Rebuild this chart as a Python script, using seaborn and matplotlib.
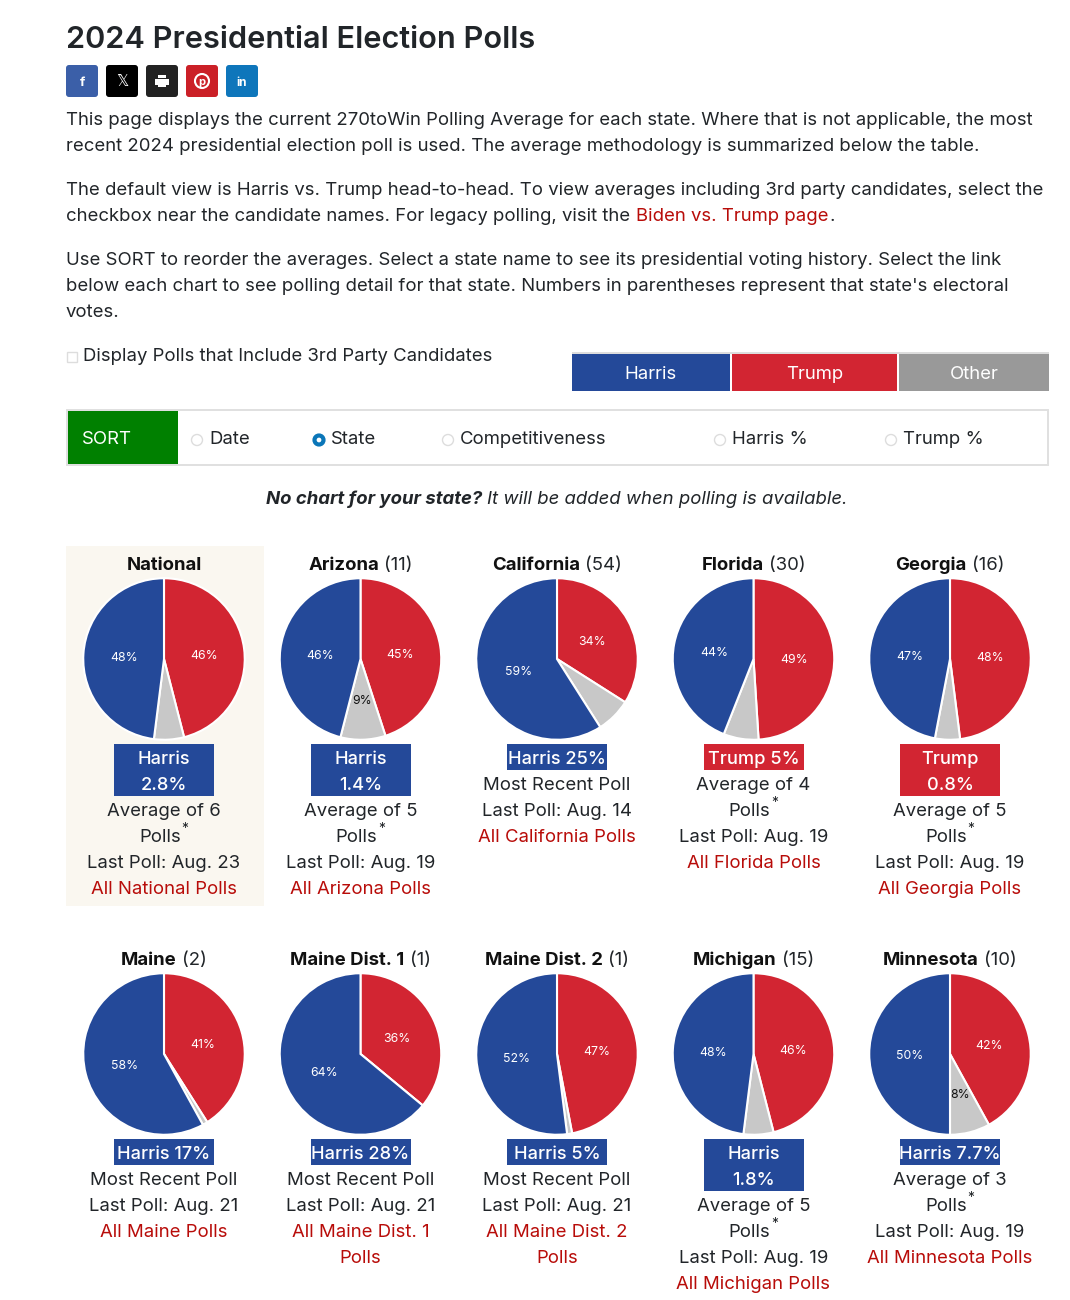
import matplotlib
matplotlib.use("Agg")
import matplotlib.pyplot as plt
from matplotlib.patches import Rectangle, FancyBboxPatch, Circle
import seaborn as sns

names = ["National", "Arizona", "California", "Florida", "Georgia",
         "Maine", "Maine Dist. 1", "Maine Dist. 2", "Michigan", "Minnesota"]
votes = ["", "(11)", "(54)", "(30)", "(16)", "(2)", "(1)", "(1)", "(15)", "(10)"]
harris = [48, 46, 59, 44, 47, 58, 64, 52, 48, 50]
trump = [46, 45, 34, 49, 48, 41, 36, 47, 46, 42]
other = [6, 9, 7, 7, 5, 1, 0, 1, 6, 8]
leaders = ["Harris", "Harris", "Harris", "Trump", "Trump",
           "Harris", "Harris", "Harris", "Harris", "Harris"]
margins = [["Harris", "2.8%"], ["Harris", "1.4%"], ["Harris 25%"], ["Trump 5%"], ["Trump", "0.8%"],
           ["Harris 17%"], ["Harris 28%"], ["Harris 5%"], ["Harris", "1.8%"], ["Harris 7.7%"]]
methods = [["Average of 6", "Polls"], ["Average of 5", "Polls"], ["Most Recent Poll"],
           ["Average of 4", "Polls"], ["Average of 5", "Polls"], ["Most Recent Poll"],
           ["Most Recent Poll"], ["Most Recent Poll"], ["Average of 5", "Polls"],
           ["Average of 3", "Polls"]]
last_polls = ["Aug. 23", "Aug. 19", "Aug. 14", "Aug. 19", "Aug. 19",
              "Aug. 21", "Aug. 21", "Aug. 21", "Aug. 19", "Aug. 19"]
links = [["All National Polls"], ["All Arizona Polls"], ["All California Polls"],
         ["All Florida Polls"], ["All Georgia Polls"], ["All Maine Polls"],
         ["All Maine Dist. 1", "Polls"], ["All Maine Dist. 2", "Polls"],
         ["All Michigan Polls"], ["All Minnesota Polls"]]
legend_names = ["Harris", "Trump", "Other"]
sort_options = ["Date", "State", "Competitiveness", "Harris %", "Trump %"]
body_lines = [
    "This page displays the current 270toWin Polling Average for each state. Where that is not applicable, the most",
    "recent 2024 presidential election poll is used. The average methodology is summarized below the table.",
    "The default view is Harris vs. Trump head-to-head. To view averages including 3rd party candidates, select the",
    "Use SORT to reorder the averages. Select a state name to see its presidential voting history. Select the link",
    "below each chart to see polling detail for that state. Numbers in parentheses represent that state's electoral",
    "votes.",
]

BLUE, RED, GREY, LGREY = "#244999", "#d22532", "#999999", "#c8c8c8"
INK, LINK = "#212529", "#b80c09"
sns.set_theme(style="white")
pie_colors = sns.color_palette([RED, LGREY, BLUE])
plt.rcParams["font.family"] = ["Inter", "DejaVu Sans"]
W, H = 1070, 1300
BODY = 13.35

fig = plt.figure(figsize=(W / 100, H / 100), dpi=100, facecolor="white")
bg = fig.add_axes([0, 0, 1, 1], zorder=0)
bg.set_xlim(0, W)
bg.set_ylim(H, 0)
bg.axis("off")
renderer = fig.canvas.get_renderer()


def box(x0, y0, x1, y1, color, **kw):
    bg.add_patch(Rectangle((x0, y0), x1 - x0, y1 - y0, facecolor=color, edgecolor="none", **kw))


def txt(x, y, s, size=BODY, color=INK, ha="left", **kw):
    return bg.text(x, y + 7, s, fontsize=size, color=color, ha=ha, va="baseline", **kw)


def runs(x, y, parts, gaps=(5,), ha="left", size=BODY):
    items = [txt(0, y, s, size=size, **kw) for s, kw in parts]
    widths = [t.get_window_extent(renderer).width for t in items]
    gaps = list(gaps) + [0]
    total = sum(widths) + sum(gaps[:len(items) - 1])
    cur = x - total / 2 if ha == "center" else x
    for t, w, g in zip(items, widths, gaps):
        t.set_x(cur)
        cur += w + g


# header
bg.text(66, 48, "2024 Presidential Election Polls", fontsize=22.1, color=INK, fontweight=600, va="baseline")
button_colors = ["#3b5fa8", "#000000", "#222222", "#cb2027", "#0e76bb"]
for i, c in enumerate(button_colors):
    x0 = 66 + 40 * i
    bg.add_patch(FancyBboxPatch((x0 + 2, 67), 28, 28, boxstyle="round,pad=2,rounding_size=3",
                                facecolor=c, edgecolor="none"))
cx = [82 + 40 * i for i in range(5)]
txt(cx[0], 79, "f", size=9.5, color="white", ha="center", fontweight="bold")
txt(cx[1], 79, "𝕏", size=11, color="white", ha="center", family="DejaVu Sans")
box(cx[2] - 4, 75, cx[2] + 4, 78, "white")
box(cx[2] - 7, 78.5, cx[2] + 7, 85, "white")
box(cx[2] - 4, 83, cx[2] + 4, 87, "white", zorder=3)
box(cx[2] - 3, 84.5, cx[2] + 3, 85.2, "#222222", zorder=4)
bg.add_patch(Circle((cx[3], 81), 7, facecolor="none", edgecolor="white", lw=1.5))
txt(cx[3], 78, "p", size=8, color="white", ha="center", fontweight="bold")
txt(cx[4], 78.5, "in", size=8.5, color="white", ha="center", fontweight="bold")

# intro text
txt(66, 118, body_lines[0])
txt(66, 144, body_lines[1])
txt(66, 188, body_lines[2])
runs(66, 214, [("checkbox near the candidate names. For legacy polling, visit the", {}),
               ("Biden vs. Trump page", {"color": LINK}), (".", {})], gaps=(6, 1))
txt(66, 258, body_lines[3])
txt(66, 284, body_lines[4])
txt(66, 310, body_lines[5])

# controls
bg.add_patch(Rectangle((67, 352), 10, 10, facecolor="white", edgecolor="#dddddd", lw=1))
txt(83, 354, "Display Polls that Include 3rd Party Candidates")
box(572, 352, 1049, 354, "#dddddd")
for (x0, x1, c), s in zip([(572, 730, BLUE), (732, 897, RED), (899, 1049, GREY)], legend_names):
    box(x0, 354, x1, 391, c)
    txt((x0 + x1) / 2, 372, s, color="white", ha="center")
bg.add_patch(Rectangle((67, 410), 981, 55, facecolor="white", edgecolor="#e0e0e0", lw=1.4))
box(68, 411, 178, 464, "#008000")
txt(82, 437, "SORT", color="white")
sort_x = [197, 319, 448, 720, 891]
for x, s in zip(sort_x, sort_options):
    if s == "State":
        bg.add_patch(Circle((x, 440), 4.5, facecolor="white", edgecolor="#0b76b8", lw=3))
    else:
        bg.add_patch(Circle((x, 440), 5.5, facecolor="white", edgecolor="#dddddd", lw=1))
    txt(x + 12, 437, s)
runs(557, 497, [("No chart for your state?", {"fontweight": "bold", "style": "italic"}),
                ("It will be added when polling is available.", {"style": "italic"})],
     ha="center", gaps=(5,))

# state panels
box(66, 546, 264, 906, "#faf7f0")
for i, name in enumerate(names):
    col, row = i % 5, i // 5
    x = 164 + 196.5 * col
    top = 563 + 395 * row
    cy = 659 + 395 * row
    parts = [(name, {"fontweight": "bold", "color": "#111111"})]
    if votes[i]:
        parts.append((votes[i], {}))
    runs(x, top, parts, ha="center")

    ax = fig.add_axes([(x - 80.75) / W, 1 - (cy + 80.75) / H, 161.5 / W, 161.5 / H], zorder=2)
    _, _, pcts = ax.pie([trump[i], other[i], harris[i]], colors=pie_colors, startangle=90,
                        counterclock=False, radius=1,
                        autopct=lambda p: f"{p:.0f}%" if p >= 7.5 else "", pctdistance=0.5,
                        wedgeprops={"edgecolor": "white", "linewidth": 1.5, "clip_on": False})
    ax.set_xlim(-1, 1)
    ax.set_ylim(-1, 1)
    ax.patch.set_alpha(0)
    for t, c in zip(pcts, ["white", "#111111", "white"]):
        t.set_fontsize(8.8)
        t.set_color(c)
        px, py = t.get_position()
        t.set_position((px, py - 0.025))

    y = 757 + 395 * row
    lines = margins[i]
    fill = BLUE if leaders[i] == "Harris" else RED
    box(x - 50, y - 13, x + 50, y - 13 + 26 * len(lines), fill)
    for s in lines:
        txt(x, y, s, size=13.1, color="white", ha="center", fontweight=500)
        y += 26
    for s in methods[i]:
        if s == "Polls":
            txt(x - 4, y, s, ha="center")
            txt(x + 21, y - 9, "*", size=10, ha="center")
        else:
            txt(x, y, s, ha="center")
        y += 26
    txt(x, y, f"Last Poll: {last_polls[i]}", ha="center")
    y += 26
    for s in links[i]:
        txt(x, y, s, color=LINK, ha="center")
        y += 26

fig.savefig("out.png", dpi=100, facecolor="white")
